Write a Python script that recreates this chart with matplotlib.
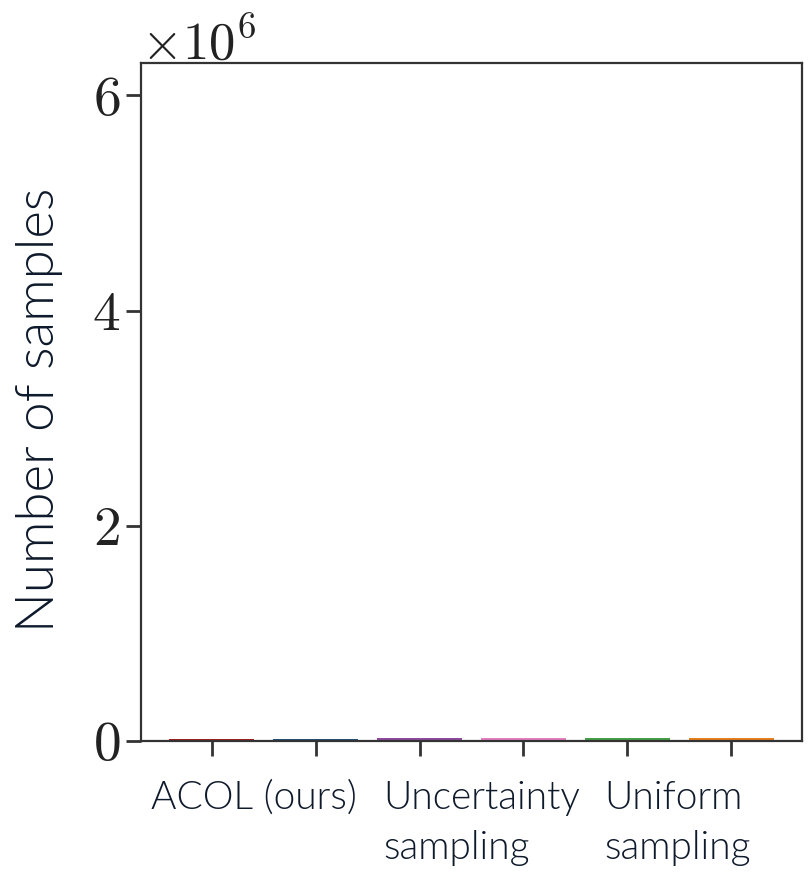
import matplotlib
matplotlib.use("Agg")
import matplotlib.pyplot as plt
from matplotlib.ticker import ScalarFormatter
import matplotlib.transforms as mtransforms

# values (all tiny compared to the 1e6 scale)
methods = ["m1", "m2", "m3", "m4", "m5", "m6"]
samples = [22000, 18000, 32000, 26000, 30000, 27000]
colors = ["#a51e22", "#23527c", "#8e4a9e", "#e67fbf", "#46a046", "#e8801c"]

group_labels = ["ACOL (ours)", "Uncertainty\nsampling", "Uniform\nsampling"]
group_pos = [-0.58, 1.65, 3.78]

plt.rcParams["mathtext.fontset"] = "cm"
plt.rcParams["font.family"] = "cmr10"
plt.rcParams["axes.formatter.use_mathtext"] = True

fig = plt.figure(figsize=(8.08, 8.73), dpi=100)
ax = fig.add_axes([0.1745, 0.1512, 0.818, 0.7766])

x = range(len(methods))
ax.bar(x, samples, width=0.82, color=colors, zorder=1)

ax.set_xlim(-0.68, 5.68)
ax.set_ylim(0, 6.3e6)
ax.set_yticks([0, 2e6, 4e6, 6e6])
ax.set_xticks(list(x))
ax.set_xticklabels([])

fmt = ScalarFormatter(useMathText=True)
fmt.set_powerlimits((0, 0))
ax.yaxis.set_major_formatter(fmt)

ax.tick_params(axis="both", direction="out", length=11, width=2, color="#333333", labelsize=40, pad=4)
ax.tick_params(labelcolor="#222222")
ax.yaxis.get_offset_text().set_fontsize(38)
ax.yaxis.get_offset_text().set_color("#222222")

for s in ax.spines.values():
    s.set_color("#333333")
    s.set_linewidth(1.6)

# labels drawn in a sans font
trans = mtransforms.blended_transform_factory(ax.transData, fig.transFigure)
for pos, lab in zip(group_pos, group_labels):
    ax.text(pos, 1 - 780 / 873, lab, transform=trans, ha="left", va="top",
            fontsize=28, family="Lato", weight=300, color="#0e1a2b", linespacing=1.5)

fig.text(40 / 808, 1 - 410 / 873, "Number of samples", rotation=90,
         ha="center", va="center", fontsize=38, family="Lato", weight=300, color="#0e1a2b")

plt.savefig("out.png", dpi=100)
